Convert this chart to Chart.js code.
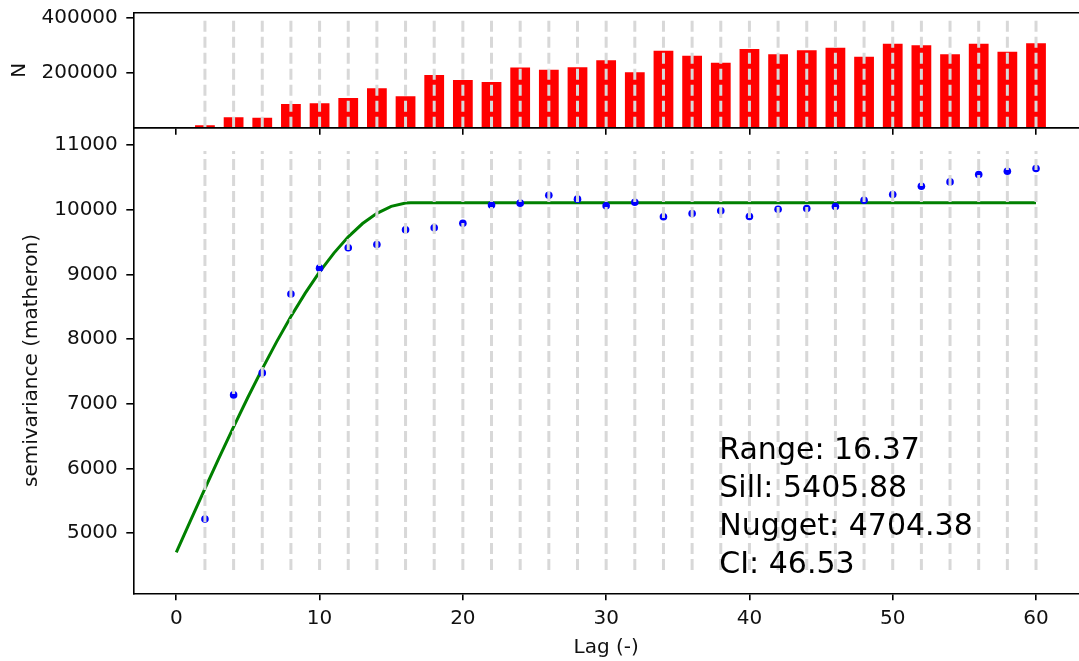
<!DOCTYPE html>
<html>
<head>
<meta charset="utf-8">
<title>Variogram</title>
<script src="https://cdn.jsdelivr.net/npm/chart.js@4.4.1/dist/chart.umd.min.js"></script>
<style>
  html, body { margin: 0; padding: 0; background: #ffffff; }
  #wrap { position: relative; width: 1079px; height: 661px; overflow: hidden; }
  #wrap canvas { position: absolute; left: 0; top: 0; }
</style>
</head>
<body>
<div id="wrap">
  <canvas id="semi-chart" width="1100" height="661"></canvas>
  <canvas id="count-chart" width="1100" height="140"></canvas>
</div>
<script>
// ---- data ----
const lags = [2, 4, 6, 8, 10, 12, 14, 16, 18, 20, 22, 24, 26, 28, 30,
              32, 34, 36, 38, 40, 42, 44, 46, 48, 50, 52, 54, 56, 58, 60];

const pairCounts = [9000, 37500, 36500, 86000, 89000, 108000, 143000, 114000, 191000, 173000,
                    166000, 218000, 210000, 219000, 244000, 201000, 279000, 261000, 235000, 285000,
                    266000, 281000, 290000, 257000, 304000, 299000, 266000, 304000, 275000, 306000];

const semivariance = [5220, 7140, 7480, 8700, 9100, 9415, 9465, 9695, 9725, 9795,
                      10075, 10105, 10228, 10167, 10064, 10120, 9894, 9945, 9986, 9899,
                      10012, 10022, 10053, 10151, 10239, 10367, 10434, 10548, 10599, 10640];

// fitted model curve (spherical), sampled values
const modelLags = [0, 1, 2, 3, 4, 5, 6, 7, 8, 9, 10, 11, 12, 13, 14, 15, 16, 16.37, 60];
const modelValues = [4704, 5199, 5690, 6174, 6646, 7104, 7543, 7960, 8352, 8713,
                     9042, 9333, 9584, 9790, 9948, 10055, 10106, 10110, 10110];

const lagTicks = [0, 10, 20, 30, 40, 50, 60];
const countTicks = [200000, 400000];
const semiTicks = [5000, 6000, 7000, 8000, 9000, 10000, 11000];

const statLines = ['Range: 16.37', 'Sill: 5405.88', 'Nugget: 4704.38', 'CI: 46.53'];

const FONT = "'DejaVu Sans', sans-serif";
const INK = '#111111';

// ---- plugins ----
// dashed light-grey guide at every lag, drawn over the data
const lagGuides = {
  id: 'lagGuides',
  afterDatasetsDraw(chart, args, opts) {
    const { ctx, chartArea, scales } = chart;
    const h = chartArea.bottom - chartArea.top;
    const y0 = chartArea.bottom - opts.from * h;
    const y1 = chartArea.bottom - opts.to * h;
    ctx.save();
    ctx.strokeStyle = '#d8d8d8';
    ctx.lineWidth = 3;
    ctx.setLineDash([11, 5]);
    lags.forEach(l => {
      const x = scales.x.getPixelForValue(l);
      ctx.beginPath();
      ctx.moveTo(x, y0);
      ctx.lineTo(x, y1);
      ctx.stroke();
    });
    ctx.restore();
  }
};

// top spine (matplotlib style box, right side is off the page)
const topSpine = {
  id: 'topSpine',
  afterDraw(chart) {
    const { ctx, chartArea } = chart;
    ctx.save();
    ctx.strokeStyle = '#000';
    ctx.lineWidth = 1.6;
    ctx.beginPath();
    ctx.moveTo(chartArea.left, chartArea.top);
    ctx.lineTo(chart.width, chartArea.top);
    ctx.stroke();
    ctx.restore();
  }
};

// fit statistics in the lower right
const statsText = {
  id: 'statsText',
  afterDraw(chart) {
    const { ctx, chartArea } = chart;
    ctx.save();
    ctx.font = '30px ' + FONT;
    ctx.fillStyle = '#000';
    ctx.textAlign = 'left';
    ctx.textBaseline = 'alphabetic';
    statLines.forEach((t, i) => {
      ctx.fillText(t, chartArea.left + 586, chartArea.bottom - 134 + i * 38);
    });
    ctx.restore();
  }
};

// keep the axis boxes at fixed sizes, no label overhang padding
function fixBox(size) {
  return s => {
    if (s.isHorizontal()) s.height = size; else s.width = size;
    s.paddingTop = 0;
    s.paddingBottom = 0;
    s.paddingLeft = 0;
    s.paddingRight = 0;
  };
}

// shared axis styling
function axisStyle(extra) {
  return Object.assign({
    grid: { offset: false, drawOnChartArea: false, drawTicks: true, tickLength: 7, color: '#000', lineWidth: 1.6 },
    border: { display: true, color: '#000', width: 1.6, z: 1 },
  }, extra);
}

// ---- N histogram (top) ----
new Chart(document.getElementById('count-chart'), {
  type: 'bar',
  data: {
    datasets: [{
      label: 'N',
      data: lags.map((l, i) => ({ x: l, y: pairCounts[i] })),
      backgroundColor: '#ff0000',
      borderWidth: 0,
      barPercentage: 0.69,
      categoryPercentage: 1
    }]
  },
  options: {
    responsive: false,
    animation: false,
    layout: { padding: { top: 12.7, left: 0, right: 21, bottom: 0 } },
    plugins: {
      legend: { display: false },
      tooltip: { enabled: false },
      lagGuides: { from: 0, to: 0.95 }
    },
    scales: {
      x: axisStyle({
        type: 'linear',
        min: -3,
        max: 63,
        offset: false,
        afterBuildTicks: s => { s.ticks = lagTicks.map(v => ({ value: v })); },
        afterFit: fixBox(12.3),
        ticks: { display: false }
      }),
      y: axisStyle({
        type: 'linear',
        min: 0,
        max: 416700,
        afterBuildTicks: s => { s.ticks = countTicks.map(v => ({ value: v })); },
        afterFit: fixBox(133.3),
        ticks: { padding: 8.5, color: INK, font: { family: FONT, size: 20 }, callback: v => String(v) },
        title: { display: true, text: 'N', color: INK, font: { family: FONT, size: 20 }, padding: { top: 7.3, bottom: 0 } }
      })
    }
  },
  plugins: [lagGuides, topSpine]
});

// ---- semivariogram (bottom) ----
new Chart(document.getElementById('semi-chart'), {
  type: 'scatter',
  data: {
    datasets: [
      {
        label: 'experimental',
        data: lags.map((l, i) => ({ x: l, y: semivariance[i] })),
        backgroundColor: '#0000ff',
        borderWidth: 0,
        pointRadius: 3.8
      },
      {
        type: 'line',
        label: 'model',
        data: modelLags.map((l, i) => ({ x: l, y: modelValues[i] })),
        borderColor: '#008000',
        borderWidth: 3,
        pointRadius: 0,
        tension: 0,
        fill: false
      }
    ]
  },
  options: {
    responsive: false,
    animation: false,
    layout: { padding: { top: 127.7, left: 0, right: 21, bottom: 0 } },
    plugins: {
      legend: { display: false },
      tooltip: { enabled: false },
      lagGuides: { from: 0.05, to: 0.95 }
    },
    scales: {
      x: axisStyle({
        type: 'linear',
        min: -3,
        max: 63,
        afterBuildTicks: s => { s.ticks = lagTicks.map(v => ({ value: v })); },
        afterFit: fixBox(67.7),
        ticks: { padding: 6, color: INK, font: { family: FONT, size: 20 }, maxRotation: 0, callback: v => String(v) },
        title: { display: true, text: 'Lag (-)', color: INK, font: { family: FONT, size: 20 }, padding: { top: 0, bottom: 1 } }
      }),
      y: axisStyle({
        type: 'linear',
        min: 4072,
        max: 11272,
        afterBuildTicks: s => { s.ticks = semiTicks.map(v => ({ value: v })); },
        afterFit: fixBox(133.3),
        ticks: { padding: 8.5, color: INK, font: { family: FONT, size: 20 }, callback: v => String(v) },
        title: { display: true, text: 'semivariance (matheron)', color: INK, font: { family: FONT, size: 20 }, padding: { top: 20.2, bottom: 0 } }
      })
    }
  },
  plugins: [lagGuides, topSpine, statsText]
});
</script>
</body>
</html>
